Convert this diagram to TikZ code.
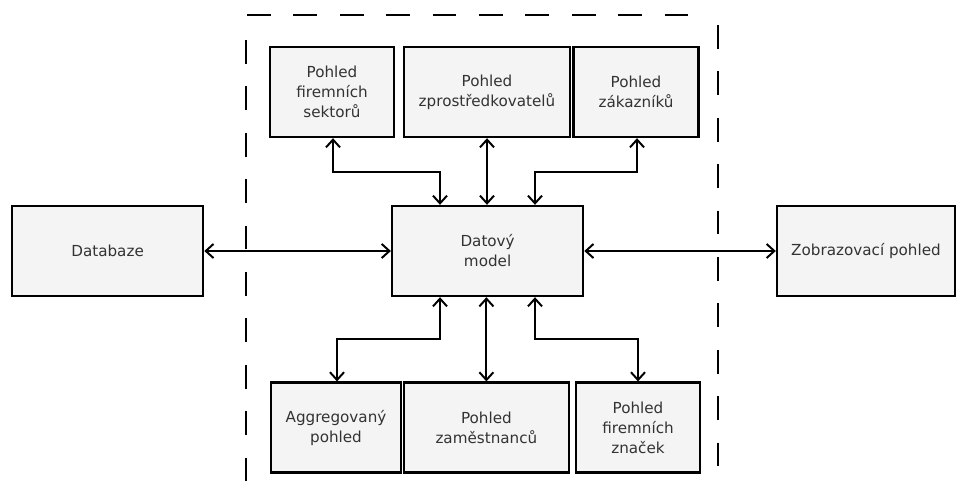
\documentclass[tikz,border=0pt]{standalone}
\usepackage{fontspec}
\setmainfont{DejaVu Sans}
\usetikzlibrary{arrows.meta}
\pgfdeclarelayer{edgelayer}
\pgfdeclarelayer{nodelayer}
\pgfsetlayers{edgelayer,nodelayer,main}
\definecolor{boxfill}{HTML}{F4F4F4}
\definecolor{boxtext}{HTML}{333333}
\tikzset{font=\fontsize{10.8}{14.2}\selectfont}
\tikzstyle{none}=[inner sep=0pt]
\tikzstyle{box}=[rectangle,draw=black,fill=boxfill,line width=1.7pt,text=boxtext,align=center,minimum height=2.25cm,inner sep=2pt]
\tikzstyle{arr}=[line width=1.4pt,{Straight Barb[length=5.5pt,width=10pt,line width=1.4pt]}-{Straight Barb[length=5.5pt,width=10pt,line width=1.4pt]}]
\tikzstyle{frame}=[line width=1.5pt,dash pattern=on 17pt off 16pt]

\begin{document}
\begin{tikzpicture}
	\useasboundingbox (0,0) rectangle (23.9,-12.525);
	\begin{pgfonlayer}{nodelayer}
		\node [style=box, minimum width=4.775cm] (0) at (2.69, -6.275) {Databaze};
		\node [style=box, minimum width=4.775cm] (1) at (12.19, -6.275) {Datový\\model};
		\node [style=box, minimum width=4.45cm] (2) at (21.65, -6.275) {Zobrazovací pohled};
		\node [style=box, minimum width=3.1cm] (3) at (8.3, -2.3) {Pohled\\firemních\\sektorů};
		\node [style=box, minimum width=4.15cm] (4) at (12.175, -2.3) {Pohled\\zprostředkovatelů};
		\node [style=box, minimum width=3.125cm] (5) at (15.9, -2.3) {Pohled\\zákazníků};
		\node [style=box, minimum width=3.25cm] (6) at (8.4, -10.69) {Aggregovaný\\pohled};
		\node [style=box, minimum width=4.125cm] (7) at (12.16, -10.69) {Pohled\\zaměstnanců};
		\node [style=box, minimum width=3.1cm] (8) at (15.95, -10.69) {Pohled\\firemních\\značek};
		\node [style=none] (9) at (8.325, -4.3) {};
		\node [style=none] (10) at (11.0, -4.3) {};
		\node [style=none] (11) at (15.925, -4.3) {};
		\node [style=none] (12) at (13.375, -4.3) {};
		\node [style=none] (13) at (11.0, -8.475) {};
		\node [style=none] (14) at (8.425, -8.475) {};
		\node [style=none] (15) at (13.375, -8.475) {};
		\node [style=none] (16) at (15.95, -8.475) {};
	\end{pgfonlayer}
	\begin{pgfonlayer}{edgelayer}
		\draw[style=arr] (0) to (1);
		\draw[style=arr] (1) to (2);
		\draw[style=arr] (3.south -| 9) -- (9.center) -- (10.center) -- (1.north -| 10);
		\draw[style=arr] (4) to (4 |- 1.north);
		\draw[style=arr] (5.south -| 11) -- (11.center) -- (12.center) -- (1.north -| 12);
		\draw[style=arr] (1.south -| 13) -- (13.center) -- (14.center) -- (6.north -| 14);
		\draw[style=arr] (1.south -| 7) -- (7);
		\draw[style=arr] (1.south -| 15) -- (15.center) -- (16.center) -- (8.north -| 16);
	\end{pgfonlayer}
	% dashed boundary
	\draw[style=frame] (6.175, -0.375) -- (17.575, -0.375);
	\draw[style=frame] (6.15, -1.0) -- (6.15, -12.4);
	\draw[style=frame] (17.95, -0.625) -- (17.95, -12.05);
\end{tikzpicture}
\end{document}
